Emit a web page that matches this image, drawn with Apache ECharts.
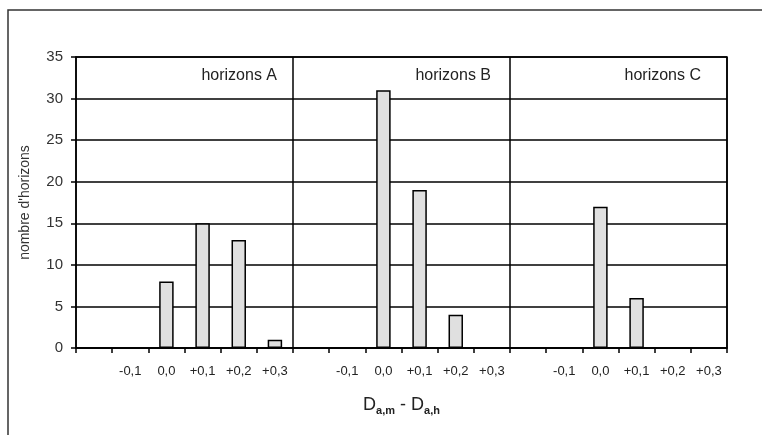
<!DOCTYPE html>
<html>
<head>
<meta charset="utf-8">
<script src="https://cdn.jsdelivr.net/npm/echarts@6/dist/echarts.min.js"></script>
<style>
html,body{margin:0;padding:0;background:#fff;}
#c{width:762px;height:435px;}
</style>
</head>
<body>
<div id="c"></div>
<script>
// Data
var classLabels = ['', '-0,1', '0,0', '+0,1', '+0,2', '+0,3'];
var panelNames = ['horizons A', 'horizons B', 'horizons C'];
var valuesA = [null, 0, 8, 15, 13, 1];
var valuesB = [null, 0, 31, 19, 4, 0];
var valuesC = [null, 0, 17, 6, 0, 0];
var yTicks = [0, 5, 10, 15, 20, 25, 30, 35];

var categories = [];
var values = [];
[valuesA, valuesB, valuesC].forEach(function (vals, p) {
  classLabels.forEach(function (lab, i) {
    categories.push(lab + '|' + p);
    values.push(vals[i] === 0 ? null : vals[i]);
  });
});

var FONT = '"Liberation Sans", Arial, sans-serif';
var chart = echarts.init(document.getElementById('c'));
chart.setOption({
  animation: false,
  backgroundColor: '#fff',
  graphic: [{
    type: 'rect', shape: {x: 8, y: 10, width: 900, height: 600},
    style: {fill: 'none', stroke: '#333', lineWidth: 1.5}, z: -10
  }],
  title: panelNames.map(function (n, i) {
    var rights = [485, 271, 61];
    return {text: n, right: rights[i], top: 68, padding: 0,
      textStyle: {fontFamily: FONT, fontSize: 16, fontWeight: 'normal', color: '#222'}};
  }),
  grid: {left: 76, top: 57, right: 35, bottom: 87, show: true, borderColor: '#000', borderWidth: 1.5},
  xAxis: {
    type: 'category',
    data: categories,
    boundaryGap: true,
    axisLine: {lineStyle: {color: '#000', width: 1.5}},
    axisTick: {show: true, length: 5, lineStyle: {color: '#000', width: 1.5}},
    axisLabel: {
      interval: 0, margin: 17, color: '#222', fontFamily: FONT, fontSize: 13,
      formatter: function (v) { return v.split('|')[0]; }
    },
    splitLine: {
      show: true,
      interval: function (idx) { return idx === 6 || idx === 12; },
      lineStyle: {color: '#000', width: 1.5}
    },
    name: '{d|D}{s|a,m}{d| - D}{s|a,h}',
    nameLocation: 'middle',
    nameGap: 47,
    nameTextStyle: {
      rich: {
        d: {fontFamily: FONT, fontSize: 18, color: '#222'},
        s: {fontFamily: FONT, fontSize: 11, fontWeight: 'bold', color: '#222', padding: [10, 0, 0, 0]}
      }
    }
  },
  yAxis: {
    type: 'value',
    min: 0, max: 35, interval: 5,
    axisLine: {show: true, lineStyle: {color: '#000', width: 1.5}},
    axisTick: {show: true, length: 5, lineStyle: {color: '#000', width: 1.5}},
    axisLabel: {margin: 13, color: '#333', fontFamily: FONT, fontSize: 15,
      formatter: function (v) { return yTicks.indexOf(v) >= 0 ? String(v) : ''; }},
    splitLine: {show: true, lineStyle: {color: '#000', width: 1.5}},
    name: "nombre d'horizons",
    nameLocation: 'middle',
    nameGap: 44,
    nameTextStyle: {fontFamily: FONT, fontSize: 14, color: '#333'}
  },
  series: [{
    type: 'bar',
    data: values,
    barWidth: '40%',
    itemStyle: {color: '#e0e0e0', borderColor: '#000', borderWidth: 1.5}
  }]
});
</script>
</body>
</html>
